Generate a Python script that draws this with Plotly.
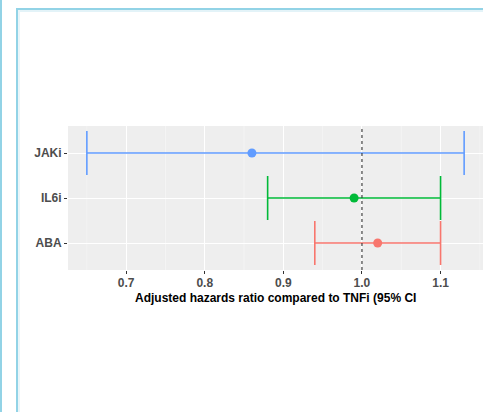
import plotly.graph_objects as go

categories = ["ABA", "IL6i", "JAKi"]
estimates = [1.02, 0.99, 0.86]
lower = [0.94, 0.88, 0.65]
upper = [1.10, 1.10, 1.13]
colors = ["#F8766D", "#00BA38", "#619CFF"]
x_ticks = [0.7, 0.8, 0.9, 1.0, 1.1]
x_minor = [0.65, 0.75, 0.85, 0.95, 1.05, 1.15]
ref_value = 1.0
x_title = "Adjusted hazards ratio compared to TNFi (95% CI"

W, H = 483, 412
L, R, T, B = 68, 0, 126, 142
pw, ph = W - L - R, H - T - B

def px_x(p):
    return (p - L) / pw

def px_y(p):
    return (H - B - p) / ph

fig = go.Figure()
for c, e, lo, hi, col in zip(categories, estimates, lower, upper, colors):
    fig.add_trace(go.Scatter(
        x=[e], y=[c], mode="markers",
        marker=dict(color=col, size=9),
        error_x=dict(type="data", symmetric=False, array=[hi - e], arrayminus=[e - lo],
                     color=col, thickness=1.6, width=22),
        showlegend=False, hoverinfo="skip",
    ))

shapes = []
for m in x_minor:
    shapes.append(dict(type="line", xref="x", yref="paper", x0=m, x1=m, y0=0, y1=1,
                       line=dict(color="#F8F8F8", width=0.6), layer="below"))
shapes.append(dict(type="line", xref="x", yref="paper", x0=ref_value, x1=ref_value, y0=0, y1=1,
                   line=dict(color="#333333", width=1.1, dash="dot")))
# outer frame decoration
fc = "#92D3E6"
shapes.append(dict(type="line", xref="paper", yref="paper", x0=px_x(1), x1=px_x(1),
                   y0=px_y(0), y1=px_y(H), line=dict(color=fc, width=2)))
shapes.append(dict(type="line", xref="paper", yref="paper", x0=px_x(17), x1=px_x(17),
                   y0=px_y(8), y1=px_y(H), line=dict(color=fc, width=2)))
shapes.append(dict(type="line", xref="paper", yref="paper", x0=px_x(16), x1=px_x(W),
                   y0=px_y(9), y1=px_y(9), line=dict(color=fc, width=2)))
shapes.append(dict(type="line", xref="paper", yref="paper", x0=px_x(18), x1=px_x(W),
                   y0=px_y(11), y1=px_y(11), line=dict(color="#E3F3F8", width=2)))
shapes.append(dict(type="line", xref="paper", yref="paper", x0=px_x(19), x1=px_x(19),
                   y0=px_y(10), y1=px_y(H), line=dict(color="#EAF5F9", width=2)))

fig.update_layout(
    width=W, height=H,
    margin=dict(l=L, r=R, t=T, b=B, pad=0),
    paper_bgcolor="white", plot_bgcolor="#EEEEEE",
    font=dict(family="Liberation Sans, Arial, sans-serif"),
    shapes=shapes,
    annotations=[dict(text=x_title, xref="paper", yref="paper", x=0.5, y=px_y(298),
                      xanchor="center", yanchor="middle", showarrow=False,
                      font=dict(size=12, color="black", weight="bold"))],
    xaxis=dict(
        range=[0.626, 1.154], tickvals=x_ticks, tickformat=".1f",
        showgrid=True, gridcolor="white", gridwidth=1.1, zeroline=False,
        ticks="outside", ticklen=3, tickcolor="#333333", tickwidth=1,
        tickfont=dict(size=12, color="#4D4D4D", weight="bold"),
        ticklabelstandoff=-1,
        showline=False,
    ),
    yaxis=dict(
        type="category", categoryorder="array", categoryarray=categories,
        range=[-0.6, 2.6], showgrid=True, gridcolor="white", gridwidth=1.1, zeroline=False,
        ticks="outside", ticklen=3, tickcolor="#333333", tickwidth=1,
        tickfont=dict(size=12, color="#4D4D4D", weight="bold"),
        ticklabelstandoff=0,
        showline=False,
    ),
)
fig.write_html("out.html")
